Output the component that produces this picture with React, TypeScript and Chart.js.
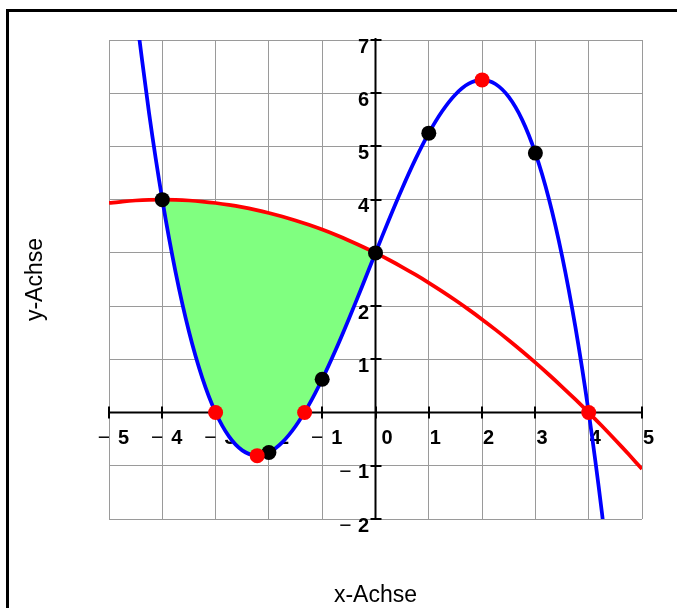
import React, { useEffect, useRef } from "react";
import { Chart, registerables } from "chart.js";

Chart.register(...registerables);

// Axis ranges
const X_MIN = -5;
const X_MAX = 5;
const Y_MIN = -2;
const Y_MAX = 7;

// Tick labels
const xTicks = [-5, -4, -3, -2, -1, 0, 1, 2, 3, 4, 5];
const yTicks = [-2, -1, 1, 2, 3, 4, 5, 6, 7];

// Blue curve samples
const cubicX = [
  -4.5, -4.25, -4, -3.75, -3.5, -3.25, -3, -2.75, -2.5, -2.25, -2, -1.75, -1.5,
  -1.25, -1, -0.75, -0.5, -0.25, 0, 0.25, 0.5, 0.75, 1, 1.25, 1.5, 1.75, 2,
  2.25, 2.5, 2.75, 3, 3.25, 3.5, 3.75, 4, 4.25, 4.5,
];
const cubicY = [
  7.57, 5.64, 4.0, 2.634, 1.523, 0.652, 0, -0.449, -0.711, -0.805, -0.75,
  -0.561, -0.258, 0.143, 0.625, 1.169, 1.758, 2.374, 3, 3.619, 4.211, 4.761,
  5.25, 5.661, 5.977, 6.179, 6.25, 6.173, 5.93, 5.504, 4.875, 4.028, 2.945,
  1.609, 0, -1.898, -4.1,
];

// Red curve samples
const parabolaX = [
  -5, -4.75, -4.5, -4.25, -4, -3.75, -3.5, -3.25, -3, -2.75, -2.5, -2.25, -2,
  -1.75, -1.5, -1.25, -1, -0.75, -0.5, -0.25, 0, 0.25, 0.5, 0.75, 1, 1.25, 1.5,
  1.75, 2, 2.25, 2.5, 2.75, 3, 3.25, 3.5, 3.75, 4, 4.25, 4.5, 4.75, 5,
];
const parabolaY = [
  3.9375, 3.9648, 3.9844, 3.9961, 4, 3.9961, 3.9844, 3.9648, 3.9375, 3.9023,
  3.8594, 3.8086, 3.75, 3.6836, 3.6094, 3.5273, 3.4375, 3.3398, 3.2344, 3.1211,
  3, 2.8711, 2.7344, 2.5898, 2.4375, 2.2773, 2.1094, 1.9336, 1.75, 1.5586,
  1.3594, 1.1523, 0.9375, 0.7148, 0.4844, 0.2461, 0, -0.2539, -0.5156, -0.7852,
  -1.0625,
];

// Enclosed area between the two curves
const AREA_FROM = -4;
const AREA_TO = 0;

// Marked points
const blackX = [-4, -2, -1, 0, 1, 3];
const blackY = [4, -0.75, 0.625, 3, 5.25, 4.875];
const redX = [-3, -2.22, -1.33, 2, 4];
const redY = [0, -0.81, 0, 6.25, 0];

const X_TITLE = "x-Achse";
const Y_TITLE = "y-Achse";

type Pt = { x: number; y: number };
const zipPts = (xs: number[], ys: number[]): Pt[] =>
  xs.map((x, i) => ({ x, y: ys[i] }));
const within = (pts: Pt[]) =>
  pts.filter((p) => p.x >= AREA_FROM && p.x <= AREA_TO);

const NUM_FONT = "bold 20px 'Liberation Sans', Arial, sans-serif";
const MINUS_FONT = "normal 21px 'Liberation Sans', Arial, sans-serif";
const TITLE_FONT = "normal 23px 'Liberation Sans', Arial, sans-serif";

const framePlugin = {
  id: "frame",
  beforeDraw(chart: any) {
    const ctx = chart.ctx;
    ctx.save();
    ctx.strokeStyle = "#000";
    ctx.lineWidth = 3;
    ctx.beginPath();
    ctx.moveTo(7.5, chart.height + 5);
    ctx.lineTo(7.5, 10.5);
    ctx.lineTo(chart.width + 5, 10.5);
    ctx.stroke();
    ctx.restore();
  },
};

const axesPlugin = {
  id: "centerAxes",
  beforeDatasetsDraw(chart: any) {
    const ctx = chart.ctx;
    const xs = chart.scales.x;
    const ys = chart.scales.y;
    const area = chart.chartArea;
    const x0 = xs.getPixelForValue(0);
    const y0 = ys.getPixelForValue(0);
    ctx.save();
    ctx.strokeStyle = "#000";
    ctx.fillStyle = "#000";
    ctx.lineWidth = 2;

    // axis lines
    ctx.beginPath();
    ctx.moveTo(area.left, y0);
    ctx.lineTo(area.right, y0);
    ctx.moveTo(x0, area.top - 2);
    ctx.lineTo(x0, area.bottom);
    ctx.stroke();

    // tick marks
    ctx.beginPath();
    for (const v of xTicks) {
      const px = Math.round(xs.getPixelForValue(v));
      ctx.moveTo(px, y0 - 6);
      ctx.lineTo(px, y0 + 6);
    }
    for (const v of yTicks) {
      const py = Math.round(ys.getPixelForValue(v));
      ctx.moveTo(x0 - 5, py);
      ctx.lineTo(x0 + 6, py);
    }
    ctx.stroke();

    // x tick labels
    ctx.textBaseline = "alphabetic";
    const xBase = y0 + 31.5;
    for (const v of xTicks) {
      const px = xs.getPixelForValue(v);
      if (v < 0) {
        ctx.font = MINUS_FONT;
        ctx.textAlign = "right";
        ctx.fillText("\u2212", px + 1, xBase);
        ctx.font = NUM_FONT;
        ctx.textAlign = "left";
        ctx.fillText(String(-v), px + 9, xBase);
      } else {
        ctx.font = NUM_FONT;
        ctx.textAlign = "left";
        ctx.fillText(String(v), v === 0 ? px + 6 : px + 1, xBase);
      }
    }

    // y tick labels
    for (const v of yTicks) {
      const py = ys.getPixelForValue(v);
      const base = py + 12.5;
      ctx.font = NUM_FONT;
      ctx.textAlign = "right";
      ctx.fillText(String(Math.abs(v)), x0 - 6.5, base);
      if (v < 0) {
        ctx.font = MINUS_FONT;
        ctx.fillText("\u2212", x0 - 24, base);
      }
    }

    // axis titles
    ctx.font = TITLE_FONT;
    ctx.textAlign = "center";
    ctx.fillText(X_TITLE, (area.left + area.right) / 2, 601.5);
    ctx.save();
    ctx.translate(42, (area.top + area.bottom) / 2);
    ctx.rotate(-Math.PI / 2);
    ctx.fillText(Y_TITLE, 0, 0);
    ctx.restore();

    ctx.restore();
  },
};

export default function App() {
  const canvasRef = useRef<HTMLCanvasElement>(null);

  useEffect(() => {
    const canvas = canvasRef.current;
    if (!canvas) return;

    const cubic = zipPts(cubicX, cubicY);
    const parabola = zipPts(parabolaX, parabolaY);

    const chart = new Chart(canvas, {
      type: "scatter",
      data: {
        datasets: [
          {
            label: "rot",
            data: zipPts(redX, redY),
            pointRadius: 7.5,
            pointHoverRadius: 7.5,
            pointBackgroundColor: "#ff0000",
            pointBorderWidth: 0,
            showLine: false,
            order: 0,
          },
          {
            label: "schwarz",
            data: zipPts(blackX, blackY),
            pointRadius: 7.5,
            pointHoverRadius: 7.5,
            pointBackgroundColor: "#000000",
            pointBorderWidth: 0,
            showLine: false,
            order: 1,
          },
          {
            label: "g",
            data: parabola,
            showLine: true,
            borderColor: "#ff0000",
            borderWidth: 3.75,
            pointRadius: 0,
            tension: 0.3,
            fill: false,
            order: 2,
          },
          {
            label: "f",
            data: cubic,
            showLine: true,
            borderColor: "#0000ff",
            borderWidth: 3.75,
            pointRadius: 0,
            tension: 0.3,
            fill: false,
            order: 3,
          },
          {
            label: "Fläche unten",
            data: within(cubic),
            showLine: true,
            borderColor: "rgba(0,0,0,0)",
            borderWidth: 0,
            pointRadius: 0,
            tension: 0.3,
            fill: "+1",
            backgroundColor: "#80ff80",
            order: 4,
          },
          {
            label: "Fläche oben",
            data: within(parabola),
            showLine: true,
            borderColor: "rgba(0,0,0,0)",
            borderWidth: 0,
            pointRadius: 0,
            tension: 0.3,
            fill: false,
            order: 5,
          },
        ],
      },
      options: {
        animation: false,
        responsive: false,
        devicePixelRatio: 1,
        events: [],
        layout: { padding: { left: 109, right: 35, top: 40, bottom: 89 } },
        plugins: {
          legend: { display: false },
          tooltip: { enabled: false },
        },
        scales: {
          x: {
            type: "linear",
            min: X_MIN,
            max: X_MAX,
            ticks: { stepSize: 1, display: false },
            grid: { color: "#9a9a9a", lineWidth: 1, drawTicks: false },
            border: { display: false },
          },
          y: {
            type: "linear",
            min: Y_MIN,
            max: Y_MAX,
            ticks: { stepSize: 1, display: false },
            grid: { color: "#9a9a9a", lineWidth: 1, drawTicks: false },
            border: { display: false },
          },
        },
      },
      plugins: [framePlugin, axesPlugin],
    });

    return () => chart.destroy();
  }, []);

  return (
    <div style={{ position: "absolute", left: 0, top: 0, width: 677, height: 608, overflow: "hidden" }}>
      <canvas ref={canvasRef} width={677} height={608} style={{ display: "block" }} />
    </div>
  );
}
